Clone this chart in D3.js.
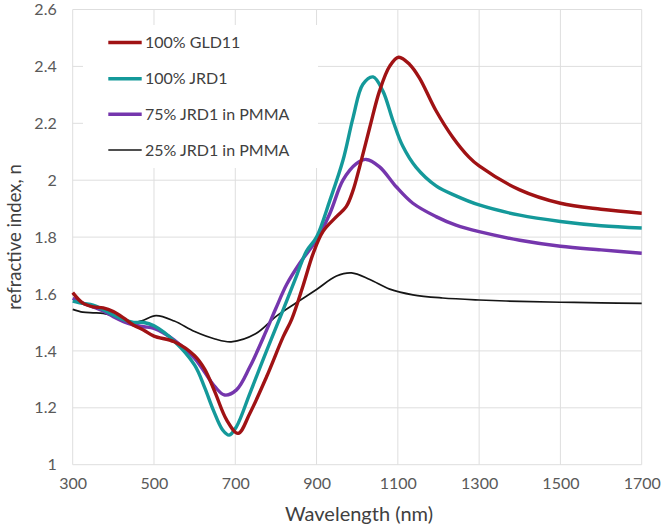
<!DOCTYPE html>
<html>
<head>
<meta charset="utf-8">
<script src="https://cdn.jsdelivr.net/npm/d3@7"></script>
<style>
    body { margin: 0; background: #fff; }
    text { font-family: Lato, "Open Sans", sans-serif; }
</style>
</head>
<body>
<svg id="chart" width="662" height="529"></svg>
<script>
// - - - - - - - - - -
// data (wavelength nm / refractive index n)
// - - - - - - - - - -
const gld11Wl = [300, 325, 350, 375, 400, 425, 450, 475, 500, 550, 600, 625, 650, 679, 707, 736, 777, 818, 839, 867,
    892, 916, 949, 973, 990, 1006, 1031, 1055, 1080, 1102, 1129, 1153, 1194, 1235, 1275, 1300, 1400, 1500, 1600, 1700];
const gld11N = [1.605, 1.568, 1.555, 1.551, 1.538, 1.516, 1.490, 1.473, 1.452, 1.432, 1.383, 1.335, 1.255, 1.157, 1.110, 1.181, 1.309, 1.450, 1.512, 1.630,
    1.744, 1.820, 1.872, 1.907, 1.965, 2.047, 2.186, 2.314, 2.401, 2.432, 2.407, 2.360, 2.244, 2.151, 2.081, 2.050, 1.966, 1.919, 1.898, 1.884];

const jrd1Wl = [300, 325, 350, 375, 400, 425, 450, 475, 500, 550, 600, 625, 646, 669, 685, 703, 736, 777, 818, 851,
    875, 900, 933, 965, 990, 1014, 1039, 1063, 1088, 1112, 1145, 1194, 1243, 1300, 1400, 1500, 1600, 1700];
const jrd1N = [1.575, 1.567, 1.561, 1.545, 1.526, 1.510, 1.500, 1.500, 1.488, 1.434, 1.350, 1.270, 1.192, 1.122, 1.104, 1.134, 1.251, 1.400, 1.545, 1.665,
    1.750, 1.800, 1.930, 2.070, 2.221, 2.337, 2.363, 2.314, 2.209, 2.120, 2.045, 1.980, 1.945, 1.913, 1.877, 1.855, 1.840, 1.832];

const pmma75Wl = [300, 325, 350, 375, 400, 425, 450, 475, 500, 550, 600, 650, 674, 703, 736, 777, 800, 827, 859,
    900, 933, 965, 998, 1022, 1055, 1096, 1137, 1194, 1243, 1300, 1400, 1500, 1600, 1700];
const pmma75N = [1.585, 1.568, 1.555, 1.540, 1.520, 1.503, 1.491, 1.485, 1.479, 1.438, 1.374, 1.274, 1.245, 1.263, 1.344, 1.473, 1.550, 1.635, 1.709,
    1.790, 1.884, 2.000, 2.058, 2.073, 2.047, 1.977, 1.919, 1.872, 1.842, 1.819, 1.789, 1.768, 1.755, 1.743];

const pmma25Wl = [300, 325, 350, 375, 400, 437, 470, 505, 550, 600, 650, 690, 750, 802, 851, 900, 949, 986,
    1031, 1080, 1137, 1210, 1300, 1400, 1500, 1600, 1700];
const pmma25N = [1.546, 1.536, 1.534, 1.532, 1.522, 1.497, 1.506, 1.524, 1.505, 1.468, 1.442, 1.432, 1.460, 1.523, 1.570, 1.616, 1.663, 1.674,
    1.651, 1.617, 1.597, 1.586, 1.579, 1.574, 1.571, 1.569, 1.567];

const seriesNames = ['100% GLD11', '100% JRD1', '75% JRD1 in PMMA', '25% JRD1 in PMMA'];
const seriesColors = ['#a01214', '#14999a', '#7536ad', '#151515'];
const seriesWidths = [3.4, 3.4, 3.4, 1.7];

const xTicks = [300, 500, 700, 900, 1100, 1300, 1500, 1700];
const yTicks = [1, 1.2, 1.4, 1.6, 1.8, 2, 2.2, 2.4, 2.6];

const series = [
    { wl: gld11Wl, n: gld11N },
    { wl: jrd1Wl, n: jrd1N },
    { wl: pmma75Wl, n: pmma75N },
    { wl: pmma25Wl, n: pmma25N }
].map((s, k) => ({
    name: seriesNames[k], color: seriesColors[k], width: seriesWidths[k],
    points: s.wl.map((w, i) => [w, s.n[i]])
}));

// - - - - - - - - - -
const svg = d3.select('#chart');

const x = d3.scaleLinear().domain([300, 1700]).range([72.7, 641.7]);
const y = d3.scaleLinear().domain([1, 2.6]).range([464.7, 9.5]);

// grid
const grid = svg.append('g').attr('stroke', '#dedede').attr('stroke-width', 1);

grid.selectAll('line.v').data(xTicks).join('line')
    .attr('class', 'v')
    .attr('x1', d => x(d)).attr('x2', d => x(d))
    .attr('y1', y(2.6)).attr('y2', y(1));

grid.selectAll('line.h').data(yTicks).join('line')
    .attr('class', 'h')
    .attr('x1', x(300)).attr('x2', x(1700))
    .attr('y1', d => y(d)).attr('y2', d => y(d));

// tick labels
const xAxis = svg.append('g')
    .attr('transform', `translate(0,${y(1)})`)
    .call(d3.axisBottom(x).tickValues(xTicks).tickFormat(d3.format('d')).tickSize(0).tickPadding(13));
xAxis.select('.domain').remove();
xAxis.selectAll('text').attr('font-size', 16).attr('fill', '#595959').attr('font-family', 'Lato');

const yAxis = svg.append('g')
    .attr('transform', `translate(${x(300)},0)`)
    .call(d3.axisLeft(y).tickValues(yTicks).tickFormat(d => String(+d.toFixed(1))).tickSize(0).tickPadding(16));
yAxis.select('.domain').remove();
yAxis.selectAll('text').attr('font-size', 16).attr('fill', '#595959').attr('font-family', 'Lato');

// axis titles
svg.append('text')
    .attr('x', 359).attr('y', 521)
    .attr('text-anchor', 'middle')
    .attr('font-size', 20).attr('fill', '#404040')
    .text('Wavelength (nm)');

svg.append('text')
    .attr('transform', 'translate(21,237) rotate(-90)')
    .attr('text-anchor', 'middle')
    .attr('font-size', 18.5).attr('fill', '#404040')
    .text('refractive index, n');

// lines
const line = d3.line()
    .x(d => x(d[0]))
    .y(d => y(d[1]))
    .curve(d3.curveCatmullRom.alpha(0.5));

svg.append('g').attr('fill', 'none')
    .selectAll('path').data(series.slice().reverse()).join('path')
    .attr('d', d => line(d.points))
    .attr('stroke', d => d.color)
    .attr('stroke-width', d => d.width)
    .attr('stroke-linejoin', 'round');

// legend
const legend = svg.append('g');
legend.append('rect')
    .attr('x', 83).attr('y', 25).attr('width', 235).attr('height', 143)
    .attr('fill', '#fff');

const legendY = [42.5, 78.7, 114.3, 150];
const item = legend.selectAll('g').data(series).join('g')
    .attr('transform', (d, i) => `translate(0,${legendY[i]})`);

item.append('line')
    .attr('x1', 108.3).attr('x2', 141.7)
    .attr('stroke', d => d.color)
    .attr('stroke-width', d => d.width);

item.append('text')
    .attr('x', 145).attr('dy', '0.35em')
    .attr('font-size', 16).attr('fill', '#404040')
    .text(d => d.name);
</script>
</body>
</html>
